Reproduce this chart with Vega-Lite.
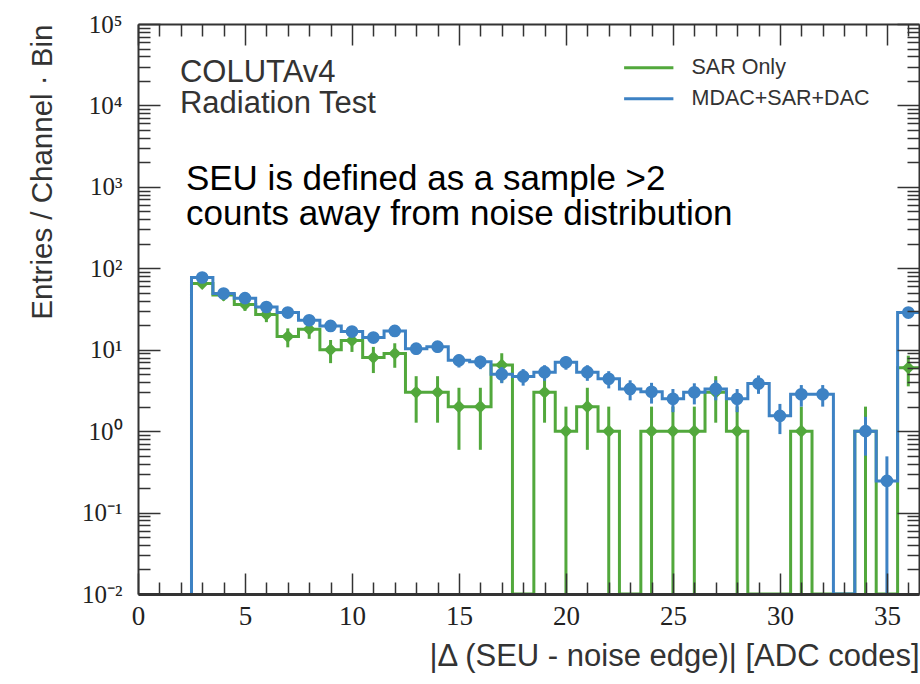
{
  "$schema": "https://vega.github.io/schema/vega-lite/v6.json",
  "width": 781,
  "height": 570,
  "autosize": {"type": "none"},
  "padding": {"left": 138, "top": 24, "right": 1, "bottom": 90},
  "background": "white",
  "config": {
    "view": {"stroke": null},
    "axis": {"grid": false, "domainColor": "#333", "domainWidth": 2, "tickColor": "#333", "tickWidth": 1.5, "labelColor": "#222", "titleColor": "#333", "titleFontWeight": "normal"}
  },
  "datasets": {
    "h": [
      {"s": "SAR Only", "c": 2, "hi": 2.5, "v": 0},
      {"s": "SAR Only", "c": 3, "hi": 3.5, "v": 65, "lo": 56.9, "up": 73.1},
      {"s": "SAR Only", "c": 4, "hi": 4.5, "v": 47, "lo": 40.1, "up": 53.9},
      {"s": "SAR Only", "c": 5, "hi": 5.5, "v": 36, "lo": 30, "up": 42},
      {"s": "SAR Only", "c": 6, "hi": 6.5, "v": 27, "lo": 21.8, "up": 32.2},
      {"s": "SAR Only", "c": 7, "hi": 7.5, "v": 14.5, "lo": 10.7, "up": 18.3},
      {"s": "SAR Only", "c": 8, "hi": 8.5, "v": 17.8, "lo": 13.6, "up": 22.0},
      {"s": "SAR Only", "c": 9, "hi": 9.5, "v": 10, "lo": 6.84, "up": 13.16},
      {"s": "SAR Only", "c": 10, "hi": 10.5, "v": 13, "lo": 9.39, "up": 16.61},
      {"s": "SAR Only", "c": 11, "hi": 11.5, "v": 8, "lo": 5.17, "up": 10.83},
      {"s": "SAR Only", "c": 12, "hi": 12.5, "v": 9, "lo": 6, "up": 12},
      {"s": "SAR Only", "c": 13, "hi": 13.5, "v": 3, "lo": 1.27, "up": 4.73},
      {"s": "SAR Only", "c": 14, "hi": 14.5, "v": 3, "lo": 1.27, "up": 4.73},
      {"s": "SAR Only", "c": 15, "hi": 15.5, "v": 2, "lo": 0.59, "up": 3.41},
      {"s": "SAR Only", "c": 16, "hi": 16.5, "v": 2, "lo": 0.59, "up": 3.41},
      {"s": "SAR Only", "c": 17, "hi": 17.5, "v": 6.5, "lo": 3.95, "up": 9.05},
      {"s": "SAR Only", "c": 18, "hi": 18.5, "v": 0},
      {"s": "SAR Only", "c": 19, "hi": 19.5, "v": 3, "lo": 1.27, "up": 4.73},
      {"s": "SAR Only", "c": 20, "hi": 20.5, "v": 1, "lo": 0, "up": 2},
      {"s": "SAR Only", "c": 21, "hi": 21.5, "v": 2, "lo": 0.59, "up": 3.41},
      {"s": "SAR Only", "c": 22, "hi": 22.5, "v": 1, "lo": 0, "up": 2},
      {"s": "SAR Only", "c": 23, "hi": 23.5, "v": 0},
      {"s": "SAR Only", "c": 24, "hi": 24.5, "v": 1, "lo": 0, "up": 2},
      {"s": "SAR Only", "c": 25, "hi": 25.5, "v": 1, "lo": 0, "up": 2},
      {"s": "SAR Only", "c": 26, "hi": 26.5, "v": 1, "lo": 0, "up": 2},
      {"s": "SAR Only", "c": 27, "hi": 27.5, "v": 3, "lo": 1.27, "up": 4.73},
      {"s": "SAR Only", "c": 28, "hi": 28.5, "v": 1, "lo": 0, "up": 2},
      {"s": "SAR Only", "c": 29, "hi": 29.5, "v": 0},
      {"s": "SAR Only", "c": 30, "hi": 30.5, "v": 0},
      {"s": "SAR Only", "c": 31, "hi": 31.5, "v": 1, "lo": 0, "up": 2},
      {"s": "SAR Only", "c": 32, "hi": 32.5, "v": 0},
      {"s": "SAR Only", "c": 33, "hi": 33.5, "v": 0},
      {"s": "SAR Only", "c": 34, "hi": 34.5, "v": 1, "lo": 0, "up": 2},
      {"s": "SAR Only", "c": 35, "hi": 35.5, "v": 0},
      {"s": "SAR Only", "c": 36, "hi": 36.5, "v": 6, "lo": 3.55, "up": 8.45},
      {"s": "MDAC+SAR+DAC", "c": 2, "hi": 2.5, "v": 0},
      {"s": "MDAC+SAR+DAC", "c": 3, "hi": 3.5, "v": 77, "lo": 72.6, "up": 81.4},
      {"s": "MDAC+SAR+DAC", "c": 4, "hi": 4.5, "v": 49, "lo": 45.5, "up": 52.5},
      {"s": "MDAC+SAR+DAC", "c": 5, "hi": 5.5, "v": 43, "lo": 39.7, "up": 46.3},
      {"s": "MDAC+SAR+DAC", "c": 6, "hi": 6.5, "v": 33.5, "lo": 30.6, "up": 36.4},
      {"s": "MDAC+SAR+DAC", "c": 7, "hi": 7.5, "v": 28.6, "lo": 25.9, "up": 31.3},
      {"s": "MDAC+SAR+DAC", "c": 8, "hi": 8.5, "v": 23, "lo": 20.6, "up": 25.4},
      {"s": "MDAC+SAR+DAC", "c": 9, "hi": 9.5, "v": 19.6, "lo": 17.4, "up": 21.8},
      {"s": "MDAC+SAR+DAC", "c": 10, "hi": 10.5, "v": 16.7, "lo": 14.7, "up": 18.7},
      {"s": "MDAC+SAR+DAC", "c": 11, "hi": 11.5, "v": 14.1, "lo": 12.2, "up": 16.0},
      {"s": "MDAC+SAR+DAC", "c": 12, "hi": 12.5, "v": 17, "lo": 14.9, "up": 19.1},
      {"s": "MDAC+SAR+DAC", "c": 13, "hi": 13.5, "v": 10.3, "lo": 8.7, "up": 11.9},
      {"s": "MDAC+SAR+DAC", "c": 14, "hi": 14.5, "v": 10.9, "lo": 9.25, "up": 12.55},
      {"s": "MDAC+SAR+DAC", "c": 15, "hi": 15.5, "v": 7.4, "lo": 6.04, "up": 8.76},
      {"s": "MDAC+SAR+DAC", "c": 16, "hi": 16.5, "v": 7.1, "lo": 5.77, "up": 8.43},
      {"s": "MDAC+SAR+DAC", "c": 17, "hi": 17.5, "v": 5.0, "lo": 3.88, "up": 6.12},
      {"s": "MDAC+SAR+DAC", "c": 18, "hi": 18.5, "v": 4.7, "lo": 3.62, "up": 5.78},
      {"s": "MDAC+SAR+DAC", "c": 19, "hi": 19.5, "v": 5.3, "lo": 4.15, "up": 6.45},
      {"s": "MDAC+SAR+DAC", "c": 20, "hi": 20.5, "v": 7.0, "lo": 5.68, "up": 8.32},
      {"s": "MDAC+SAR+DAC", "c": 21, "hi": 21.5, "v": 5.3, "lo": 4.15, "up": 6.45},
      {"s": "MDAC+SAR+DAC", "c": 22, "hi": 22.5, "v": 4.4, "lo": 3.35, "up": 5.45},
      {"s": "MDAC+SAR+DAC", "c": 23, "hi": 23.5, "v": 3.3, "lo": 2.39, "up": 4.21},
      {"s": "MDAC+SAR+DAC", "c": 24, "hi": 24.5, "v": 3.05, "lo": 2.18, "up": 3.92},
      {"s": "MDAC+SAR+DAC", "c": 25, "hi": 25.5, "v": 2.5, "lo": 1.71, "up": 3.29},
      {"s": "MDAC+SAR+DAC", "c": 26, "hi": 26.5, "v": 3.0, "lo": 2.13, "up": 3.87},
      {"s": "MDAC+SAR+DAC", "c": 27, "hi": 27.5, "v": 3.3, "lo": 2.39, "up": 4.21},
      {"s": "MDAC+SAR+DAC", "c": 28, "hi": 28.5, "v": 2.5, "lo": 1.71, "up": 3.29},
      {"s": "MDAC+SAR+DAC", "c": 29, "hi": 29.5, "v": 3.85, "lo": 2.87, "up": 4.83},
      {"s": "MDAC+SAR+DAC", "c": 30, "hi": 30.5, "v": 1.54, "lo": 0.92, "up": 2.16},
      {"s": "MDAC+SAR+DAC", "c": 31, "hi": 31.5, "v": 2.84, "lo": 2.0, "up": 3.68},
      {"s": "MDAC+SAR+DAC", "c": 32, "hi": 32.5, "v": 2.84, "lo": 2.0, "up": 3.68},
      {"s": "MDAC+SAR+DAC", "c": 33, "hi": 33.5, "v": 0},
      {"s": "MDAC+SAR+DAC", "c": 34, "hi": 34.5, "v": 1.0, "lo": 0.5, "up": 1.5},
      {"s": "MDAC+SAR+DAC", "c": 35, "hi": 35.5, "v": 0.245, "lo": 0, "up": 0.49},
      {"s": "MDAC+SAR+DAC", "c": 36, "hi": 36.5, "v": 28.6, "lo": 25.9, "up": 31.3}
    ]
  },
  "data": {"name": "h"},
  "layer": [
    {
      "transform": [{"filter": "datum.s === 'SAR Only'"}],
      "mark": {"type": "line", "interpolate": "step-before", "strokeWidth": 3, "invalid": "show", "clip": true},
      "encoding": {
        "x": {"field": "hi", "type": "quantitative", "scale": {"domain": [0, 36.5], "nice": false, "zero": false},
          "axis": {"orient": "bottom", "values": [0, 5, 10, 15, 20, 25, 30, 35], "ticks": false, "labelFont": "Liberation Serif", "labelFontSize": 27, "labelPadding": 9, "labelFlush": false, "domainWidth": 3, "zindex": 1,
            "title": "|Δ (SEU - noise edge)| [ADC codes]", "titleFont": "Liberation Sans", "titleFontSize": 31, "titleAnchor": "end", "titlePadding": 12}},
        "y": {"field": "v", "type": "quantitative", "scale": {"type": "log", "domain": [0.01, 100000], "nice": false, "clamp": true},
          "axis": {"orient": "left", "values": [0.01, 0.1, 1, 10, 100, 1000, 10000, 100000], "ticks": false, "zindex": 1,
            "labelExpr": "{'0.01':'10⁻²','0.1':'10⁻¹','1':'10⁰','10':'10¹','100':'10²','1000':'10³','10000':'10⁴','100000':'10⁵'}[datum.value]",
            "labelFont": "Liberation Serif", "labelFontSize": 25, "labelPadding": 16, "labelFlush": false, "labelOverlap": false,
            "title": "Entries / Channel · Bin", "titleFont": "Liberation Sans", "titleFontSize": 29.5, "titleAnchor": "end", "titlePadding": 24}},
        "color": {"field": "s", "type": "nominal", "scale": {"domain": ["SAR Only", "MDAC+SAR+DAC"], "range": ["#52a83c", "#3d82c4"]},
          "legend": {"orient": "none", "legendX": 500, "legendY": 33, "title": null, "symbolType": "M-3,0H3", "symbolSize": 270, "symbolStrokeWidth": 3, "labelFont": "Liberation Sans", "labelFontSize": 21.5, "labelColor": "#333", "labelLimit": 400, "labelOffset": 32, "rowPadding": 8, "padding": 0}}
      }
    },
    {
      "transform": [{"filter": "datum.s === 'SAR Only' && datum.v > 0"}],
      "mark": {"type": "rule", "strokeWidth": 3, "color": "#52a83c", "invalid": "show", "clip": true},
      "encoding": {
        "x": {"field": "c", "type": "quantitative", "axis": {"orient": "bottom", "values": [0, 5, 10, 15, 20, 25, 30, 35], "labels": false, "domain": false, "tickSize": -21, "title": null, "zindex": 1}},
        "y": {"field": "lo", "type": "quantitative", "axis": {"orient": "left", "values": [0.01, 0.1, 1, 10, 100, 1000, 10000, 100000], "labels": false, "domain": false, "tickSize": -22, "title": null, "zindex": 1}},
        "y2": {"field": "up"}
      }
    },
    {
      "transform": [{"filter": "datum.s === 'SAR Only' && datum.v > 0"}],
      "mark": {"type": "point", "shape": "diamond", "filled": true, "size": 170, "opacity": 1, "color": "#52a83c", "clip": true},
      "encoding": {
        "x": {"field": "c", "type": "quantitative", "axis": {"orient": "bottom", "values": [1, 2, 3, 4, 6, 7, 8, 9, 11, 12, 13, 14, 16, 17, 18, 19, 21, 22, 23, 24, 26, 27, 28, 29, 31, 32, 33, 34, 36], "labels": false, "domain": false, "tickSize": -12, "title": null, "zindex": 1}},
        "y": {"field": "v", "type": "quantitative", "axis": {"orient": "left", "values": [0.02, 0.03, 0.04, 0.05, 0.06, 0.07, 0.08, 0.09, 0.2, 0.3, 0.4, 0.5, 0.6, 0.7, 0.8, 0.9, 2, 3, 4, 5, 6, 7, 8, 9, 20, 30, 40, 50, 60, 70, 80, 90, 200, 300, 400, 500, 600, 700, 800, 900, 2000, 3000, 4000, 5000, 6000, 7000, 8000, 9000, 20000, 30000, 40000, 50000, 60000, 70000, 80000, 90000], "labels": false, "domain": false, "tickSize": -12, "title": null, "zindex": 1}}
      }
    },
    {
      "transform": [{"filter": "datum.s === 'MDAC+SAR+DAC'"}],
      "mark": {"type": "line", "interpolate": "step-before", "strokeWidth": 3, "invalid": "show", "clip": true},
      "encoding": {
        "x": {"field": "hi", "type": "quantitative", "axis": {"orient": "top", "values": [0, 5, 10, 15, 20, 25, 30, 35], "labels": false, "domain": true, "tickSize": -21, "title": null, "zindex": 1}},
        "y": {"field": "v", "type": "quantitative", "axis": {"orient": "right", "values": [0.01, 0.1, 1, 10, 100, 1000, 10000, 100000], "labels": false, "domain": true, "tickSize": -22, "title": null, "zindex": 1}},
        "color": {"field": "s", "type": "nominal"}
      }
    },
    {
      "transform": [{"filter": "datum.s === 'MDAC+SAR+DAC' && datum.v > 0"}],
      "mark": {"type": "rule", "strokeWidth": 3, "color": "#3d82c4", "invalid": "show", "clip": true},
      "encoding": {
        "x": {"field": "c", "type": "quantitative", "axis": {"orient": "top", "values": [1, 2, 3, 4, 6, 7, 8, 9, 11, 12, 13, 14, 16, 17, 18, 19, 21, 22, 23, 24, 26, 27, 28, 29, 31, 32, 33, 34, 36], "labels": false, "domain": false, "tickSize": -12, "title": null, "zindex": 1}},
        "y": {"field": "lo", "type": "quantitative", "axis": {"orient": "right", "values": [0.02, 0.03, 0.04, 0.05, 0.06, 0.07, 0.08, 0.09, 0.2, 0.3, 0.4, 0.5, 0.6, 0.7, 0.8, 0.9, 2, 3, 4, 5, 6, 7, 8, 9, 20, 30, 40, 50, 60, 70, 80, 90, 200, 300, 400, 500, 600, 700, 800, 900, 2000, 3000, 4000, 5000, 6000, 7000, 8000, 9000, 20000, 30000, 40000, 50000, 60000, 70000, 80000, 90000], "labels": false, "domain": false, "tickSize": -12, "title": null, "zindex": 1}},
        "y2": {"field": "up"}
      }
    },
    {
      "transform": [{"filter": "datum.s === 'MDAC+SAR+DAC' && datum.v > 0"}],
      "mark": {"type": "point", "shape": "circle", "filled": true, "size": 160, "opacity": 1, "color": "#3d82c4", "clip": true},
      "encoding": {
        "x": {"field": "c", "type": "quantitative", "axis": null},
        "y": {"field": "v", "type": "quantitative", "axis": null}
      }
    },
    {
      "data": {"values": [{}]},
      "mark": {"type": "text", "align": "left", "baseline": "alphabetic", "font": "Liberation Sans", "fontSize": 31, "color": "#333", "lineHeight": 31.5},
      "encoding": {
        "x": {"datum": 1.96, "type": "quantitative", "axis": null},
        "y": {"datum": 19550, "type": "quantitative", "axis": null},
        "text": {"value": ["COLUTAv4", "Radiation Test"]}
      }
    },
    {
      "data": {"values": [{}]},
      "mark": {"type": "text", "align": "left", "baseline": "alphabetic", "font": "Liberation Sans", "fontSize": 35, "color": "#000", "lineHeight": 35.5},
      "encoding": {
        "x": {"datum": 2.24, "type": "quantitative", "axis": null},
        "y": {"datum": 915, "type": "quantitative", "axis": null},
        "text": {"value": ["SEU is defined as a sample >2", "counts away from noise distribution"]}
      }
    }
  ],
  "resolve": {"axis": {"x": "independent", "y": "independent"}}
}
